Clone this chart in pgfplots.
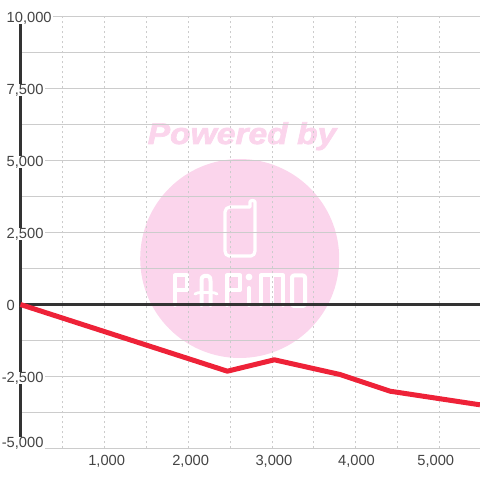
\documentclass[border=0pt]{standalone}
\usepackage{fontspec}
\setmainfont{Liberation Sans}
\newfontfamily\wmfont[BoldItalicFeatures={FakeBold=2.2}]{Liberation Sans}
\usepackage{pgfplots}
\pgfplotsset{compat=1.18}

\definecolor{gridc}{HTML}{CCCCCC}
\definecolor{axisc}{HTML}{333333}
\definecolor{labelc}{HTML}{444444}
\definecolor{linec}{HTML}{EE2238}
\definecolor{wmark}{HTML}{FBD5EC}

\pgfplotstableread{
x y
0 0
2468 -2316
3029 -1920
3813 -2431
4409 -3010
5483 -3483
}\balance

\pgfplotsset{
  frame/.style={
    scale only axis,
    width=459.5pt, height=432pt,
    xmin=0, xmax=5483,
    ymin=-5000, ymax=10000,
    clip=false,
    axis line style={draw=none},
    major tick length=0pt, minor tick length=0pt,
    scaled y ticks=false,
    scaled x ticks=false,
  },
}

\begin{document}
\begin{tikzpicture}
\useasboundingbox (-20.5pt,-31.5pt) rectangle (459.5pt,448.5pt);
% watermark, in page pixels
\begin{scope}[shift={(-20.5pt,448.5pt)},x=1pt,y=-1pt]
  \fill[wmark] (239.7,258.5) circle (99.5);
  \node[text=wmark,font=\wmfont\fontsize{30}{32}\selectfont\bfseries\itshape,xscale=1.12,anchor=base] at (242,144) {Powered by};
  \begin{scope}[draw=white,line width=4pt,line join=round,line cap=round]
    \draw[line width=3.2pt] (225,212) to[out=90,in=180] (230,207) -- (250,207) -- (250,202) to[out=90,in=90] (255,202)
      -- (255,251) to[out=-90,in=0] (251,256) -- (229,256) to[out=180,in=-90] (225,251) -- cycle;
    % PAPIMO
    \draw (175,305) -- (175,275.5) -- (187,275.5) -- (187,290) -- (175,290);
    \draw (201.5,305) -- (201.5,281) to[out=90,in=180] (204,276) -- (208,276) to[out=0,in=90] (210.5,281) -- (210.5,305);
    \draw[line width=2.8pt] (195,294) to[out=30,in=180] (201,292.5) -- (211,292.5) to[out=0,in=150] (217,294);
    \draw (227,305) -- (227,275.5) -- (240,275.5) -- (240,290) -- (227,290);
    \draw (249,288) -- (249,305);
    \fill[white] (249,277) circle (3.4);
    \draw (261,305) -- (261,275.5) -- (283,275.5) -- (283,305);
    \draw (272,275.5) -- (272,305);
    \draw[rounded corners=2pt] (292,275.5) rectangle (305,306);
  \end{scope}
\end{scope}
% grid and the two dark zero lines go first, the labels must cover them
\begin{axis}[
  frame,
  xtick={500,1000,...,5000},
  ytick={-5000,-3750,...,10000},
  xticklabels={}, yticklabels={},
  grid=both,
  major grid style={gridc,line width=1pt},
  x grid style={gridc,line width=0.8pt,dash pattern=on 2.5pt off 2.5pt},
]
\addplot[axisc,line width=3.2pt] coordinates {(0,-5000) (0,10000)};
\addplot[axisc,line width=3.2pt] coordinates {(0,0) (5483,0)};
\end{axis}
\begin{axis}[
  frame,
  xtick={1000,2000,3000,4000,5000},
  xticklabels={\kern4.8pt 1{,}000,\kern5.2pt 2{,}000,\kern4pt 3{,}000,\kern1.6pt 4{,}000,5{,}000\kern7.6pt},
  ytick={-2500,0,2500,5000,7500,10000},
  yticklabels={\llap{-}2{,}500,0,2{,}500,5{,}000,7{,}500,10{,}000},
  extra y ticks={-5000},
  extra y tick labels={\llap{-}5{,}000},
  extra y tick style={y tick label style={yshift=6.5pt}},
  tick label style={text=labelc,font=\fontsize{14.7}{16}\selectfont},
  y tick label style={anchor=west,xshift=-15.5pt,yshift=-1.5pt,fill=white,inner xsep=1.5pt,inner ysep=0pt,text height=10.5pt,text depth=2pt},
  x tick label style={anchor=north,yshift=-7pt,inner sep=0pt},
]
\addplot[linec,line width=5pt,line join=round] table[x=x,y=y] {\balance};
\end{axis}
\end{tikzpicture}
\end{document}
